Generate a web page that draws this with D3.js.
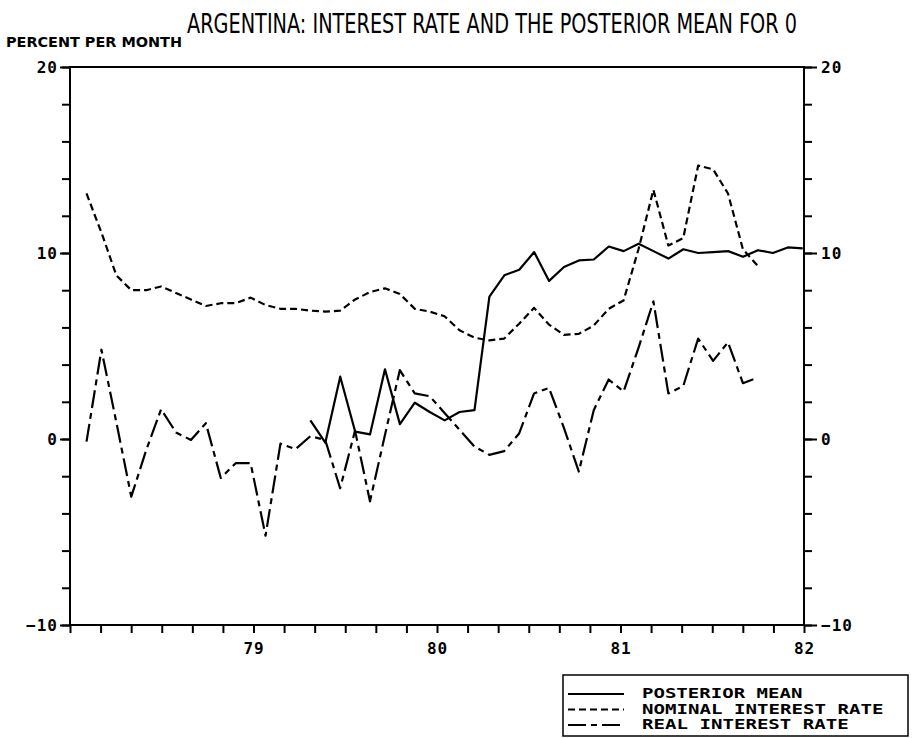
<!DOCTYPE html>
<html>
<head>
<meta charset="utf-8">
<script src="https://cdn.jsdelivr.net/npm/d3@7"></script>
<style>
    body { margin: 0; background: #fff; }
    .tick-label { font-family: 'DejaVu Sans Mono', monospace; font-weight: bold; font-size: 16px; letter-spacing: 1px; }
</style>
</head>
<body>
<div id="chart"></div>
<script>
// Data (percent per month, one point per month)
const nominal_rate = [
    13.2, 11.1, 8.8, 8.0, 8.0, 8.2, 7.85, 7.5, 7.15, 7.3, 7.3, 7.6,
    7.2, 7.0, 7.0, 6.9, 6.85, 6.9, 7.5, 7.9, 8.1, 7.8, 7.0, 6.85,
    6.6, 5.85, 5.45, 5.3, 5.4, 6.2, 7.05, 6.15, 5.6, 5.65, 6.1, 7.0,
    7.45, 10.2, 13.4, 10.4, 10.8, 14.7, 14.5, 13.2, 10.2, 9.3
];
const real_rate = [
    -0.14, 4.8, 0.9, -3.1, -0.6, 1.6, 0.35, -0.05, 0.85, -2.1, -1.3, -1.3,
    -5.2, -0.25, -0.55, 0.15, -0.05, -2.65, 0.45, -3.35, 0.2, 3.7, 2.45, 2.3,
    1.4, 0.5, -0.4, -0.85, -0.65, 0.3, 2.45, 2.75, 0.6, -1.75, 1.55, 3.2,
    2.55, 4.9, 7.4, 2.45, 2.85, 5.4, 4.2, 5.2, 3.0, 3.3
];
const posterior_mean = [
    1.0, -0.2, 3.35, 0.4, 0.25, 3.75, 0.8, 1.95, 1.45, 1.0, 1.45, 1.55,
    7.65, 8.8, 9.1, 10.05, 8.5, 9.25, 9.6, 9.65, 10.35, 10.1, 10.5, 10.1,
    9.7, 10.2, 10.0, 10.05, 10.1, 9.8, 10.15, 10.0, 10.3, 10.25
];
const rates_start = 78.09;      // first month of the two interest rate series
const posterior_start = 79.31;  // first month of the posterior mean
const month_step = 0.0813;      // spacing of the monthly points on the year axis

const year_labels = [79, 80, 81, 82];
const y_labels = [-10, 0, 10, 20];
const legend_names = ['POSTERIOR MEAN', 'NOMINAL INTEREST RATE', 'REAL INTEREST RATE'];
const legend_dashes = [null, '7,4', '18,5,6,5'];

const chart_width = 912;
const chart_height = 738;
const plot = { left: 70, right: 804, top: 67, bottom: 625 };

// Creating SVG Element
const svg = d3.select('#chart')
    .append('svg')
    .attr('width', chart_width)
    .attr('height', chart_height);

// Create Scales
const x_scale = d3.scaleLinear()
    .domain([78, 82])
    .range([plot.left, plot.right]);

const y_scale = d3.scaleLinear()
    .domain([-10, 20])
    .range([plot.bottom, plot.top]);

// Titles (the plotter font is tall and narrow, so stretch a smaller font upward)
svg.append('text')
    .attr('transform', 'translate(492, 33) scale(1, 1.3)')
    .attr('text-anchor', 'middle')
    .attr('textLength', 610)
    .attr('lengthAdjust', 'spacingAndGlyphs')
    .style('font-family', "'Liberation Sans Narrow', 'DejaVu Sans', sans-serif")
    .style('font-size', '21px')
    .text('ARGENTINA: INTEREST RATE AND THE POSTERIOR MEAN FOR 0');

svg.append('text')
    .attr('x', 6)
    .attr('y', 47)
    .attr('textLength', 176)
    .attr('lengthAdjust', 'spacingAndGlyphs')
    .style('font-family', "'DejaVu Sans', sans-serif")
    .style('font-weight', 'bold')
    .style('font-size', '14px')
    .text('PERCENT PER MONTH');

// Create Axis
const month_ticks = d3.range(0, 25).map(k => 78 + k / 6);

const x_axis = d3.axisBottom(x_scale)
    .tickValues(month_ticks)
    .tickSize(8)
    .tickPadding(10)
    .tickFormat(d => {
        const yr = Math.round(d);
        return Math.abs(d - yr) < 1e-6 && year_labels.includes(yr) ? yr : '';
    });

svg.append('g')
    .attr('transform', `translate(0, ${plot.bottom})`)
    .call(x_axis)
    .call(g => g.select('.domain').remove());

const minor_values = d3.range(-10, 21, 2);

const left_minor = d3.axisLeft(y_scale).tickValues(minor_values).tickSize(8).tickFormat('');
const right_minor = d3.axisRight(y_scale).tickValues(minor_values).tickSize(8).tickFormat('');
const left_major = d3.axisLeft(y_scale).tickValues(y_labels).tickSize(10).tickPadding(2);
const right_major = d3.axisRight(y_scale).tickValues(y_labels).tickSize(13).tickPadding(4);

svg.append('g').attr('transform', `translate(${plot.left}, 0)`).call(left_minor);
svg.append('g').attr('transform', `translate(${plot.right}, 0)`).call(right_minor);
svg.append('g').attr('transform', `translate(${plot.left}, 0)`).call(left_major);
svg.append('g').attr('transform', `translate(${plot.right}, 0)`).call(right_major);

svg.selectAll('.domain').remove();
svg.selectAll('.tick line').attr('stroke', '#000').attr('stroke-width', 2);
svg.selectAll('.tick text')
    .classed('tick-label', true)
    .attr('font-family', null)
    .attr('font-size', null)
    .attr('fill', '#000');

// Frame
svg.append('rect')
    .attr('x', plot.left)
    .attr('y', plot.top)
    .attr('width', plot.right - plot.left)
    .attr('height', plot.bottom - plot.top)
    .attr('fill', 'none')
    .attr('stroke', '#000')
    .attr('stroke-width', 2);

// Create Lines
const to_points = (values, start) => values.map((v, i) => ({ x: start + i * month_step, y: v }));

const series = [
    { points: to_points(posterior_mean, posterior_start), dash: legend_dashes[0] },
    { points: to_points(nominal_rate, rates_start), dash: legend_dashes[1] },
    { points: to_points(real_rate, rates_start), dash: legend_dashes[2] },
];

const line = d3.line()
    .x(d => x_scale(d.x))
    .y(d => y_scale(d.y));

svg.append('g')
    .selectAll('path')
    .data(series)
    .enter()
    .append('path')
    .attr('d', d => line(d.points))
    .attr('fill', 'none')
    .attr('stroke', '#000')
    .attr('stroke-width', 2.2)
    .attr('stroke-linejoin', 'round')
    .attr('stroke-dasharray', d => d.dash);

// Legend
const legend = svg.append('g');

legend.append('rect')
    .attr('x', 563)
    .attr('y', 675)
    .attr('width', 345)
    .attr('height', 61)
    .attr('fill', 'none')
    .attr('stroke', '#000')
    .attr('stroke-width', 1.5);

const legend_rows = legend.selectAll('g.row')
    .data(legend_names)
    .enter()
    .append('g')
    .attr('class', 'row')
    .attr('transform', (d, i) => `translate(0, ${698 + i * 15.5})`);

legend_rows.append('line')
    .attr('x1', 568)
    .attr('x2', 624)
    .attr('y1', -4)
    .attr('y2', -4)
    .attr('stroke', '#000')
    .attr('stroke-width', 2)
    .attr('stroke-dasharray', (d, i) => legend_dashes[i]);

legend_rows.append('text')
    .attr('x', 642)
    .attr('textLength', d => d.length * 11.6 - 2)
    .attr('lengthAdjust', 'spacingAndGlyphs')
    .style('font-family', "'DejaVu Sans Mono', monospace")
    .style('font-weight', 'bold')
    .style('font-size', '13.5px')
    .text(d => d);
</script>
</body>
</html>
